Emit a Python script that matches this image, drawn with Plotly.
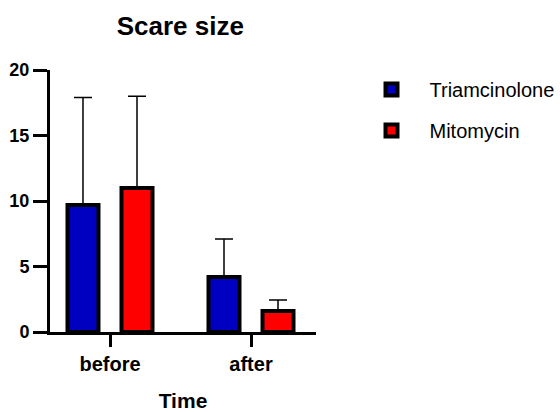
import plotly.graph_objects as go

categories = ["before", "after"]
series_names = ["Triamcinolone", "Mitomycin"]
triamcinolone = [9.7, 4.2]
triamcinolone_sd = [8.2, 2.9]
mitomycin = [11.0, 1.6]
mitomycin_sd = [7.0, 0.85]
colors = ["#0000C0", "#FF0000"]
y_ticks = [0, 5, 10, 15, 20]

fig = go.Figure()
for i, (name, vals, sd) in enumerate(zip(series_names, [triamcinolone, mitomycin],
                                         [triamcinolone_sd, mitomycin_sd])):
    fig.add_trace(go.Bar(
        x=categories, y=vals, name=name,
        legendgroup=name,
        marker=dict(color=colors[i], line=dict(color="black", width=4)),
        error_y=dict(type="data", array=sd, arrayminus=[0] * len(sd), symmetric=False,
                     color="black", thickness=1.5, width=9),
    ))

font_family = "Liberation Sans, Arial, sans-serif"
fig.update_layout(
    width=560, height=412,
    margin=dict(l=50, r=244, t=70, b=80, autoexpand=False),
    paper_bgcolor="white", plot_bgcolor="white",
    barmode="group", bargap=0.234, bargroupgap=0.426,
    title=dict(text="Scare size", x=0.322, xanchor="center",
               y=1 - 26 / 412, yanchor="middle",
               font=dict(family=font_family, size=26, color="black", weight="bold")),
    showlegend=True,
    legend=dict(x=1.141, xanchor="left", y=1.0, yanchor="top",
                traceorder="grouped", tracegroupgap=12, itemwidth=66,
                font=dict(family=font_family, size=20, color="black"),
                bgcolor="rgba(0,0,0,0)"),
    font=dict(family=font_family, color="black"),
)
fig.update_xaxes(
    type="category", range=[-0.4255, 1.461], automargin=False,
    showline=True, linecolor="black", linewidth=3,
    ticks="outside", ticklen=12, tickwidth=2.5, tickcolor="black",
    tickfont=dict(family=font_family, size=20, color="black", weight="bold"),
    title=dict(text="Time", font=dict(family=font_family, size=21, color="black", weight="bold"),
               standoff=22),
    showgrid=False, zeroline=False,
)
fig.update_yaxes(
    range=[0, 20], tickvals=y_ticks, automargin=False,
    showline=True, linecolor="black", linewidth=3,
    ticks="outside", ticklen=14, tickwidth=2.5, tickcolor="black",
    tickfont=dict(family=font_family, size=18, color="black", weight="bold"),
    showgrid=False, zeroline=False,
)

fig.write_html("out.html", config={"displayModeBar": False},
               post_script="document.body.style.margin='0';")
